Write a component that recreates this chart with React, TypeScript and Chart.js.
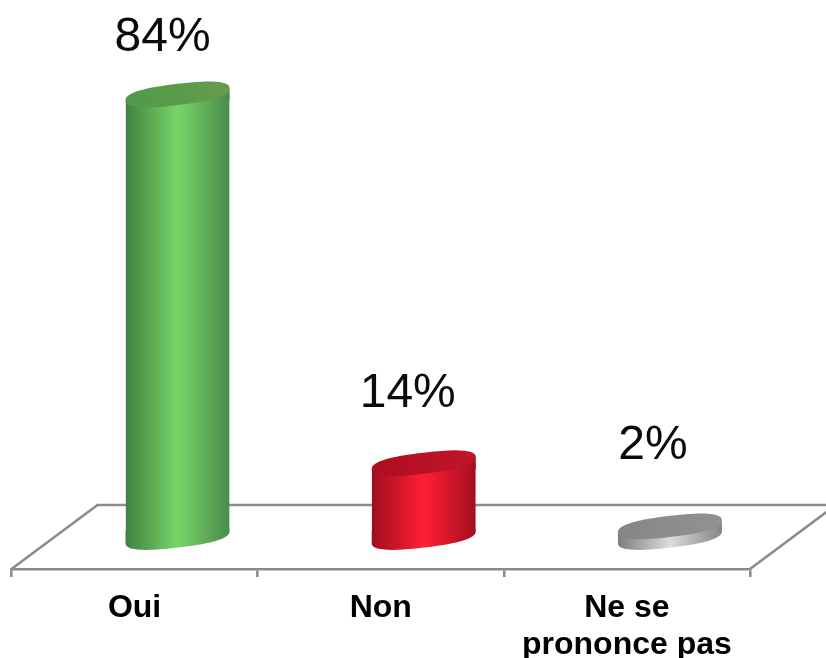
import React, { useEffect, useRef } from "react";
import { Chart, registerables } from "chart.js";

Chart.register(...registerables);

const categories: (string | string[])[] = ["Oui", "Non", ["Ne se", "prononce pas"]];
const values = [84, 14, 2];
const valueLabels = ["84%", "14%", "2%"];

const sideStops = [
  ["#3f8240", "#78d468", "#4a8c4a"],
  ["#a00d20", "#ff1f35", "#a40e20"],
  ["#7d7d7d", "#dcdcdc", "#858585"],
];
const topStops = [
  ["#4f9a4a", "#659c4c"],
  ["#ad0f20", "#c2142a"],
  ["#868686", "#929292"],
];
const labelLift = [57, 69.5, 81];
const labelShift = [-15, -16, -17];

const DEPTH_X = 43;
const DEPTH_Y = -32;
const RX = 52;
const RY = 10.6;
const POWER = 2.5;
const TIP = 6;
const LINE = "#8c8c8c";

function hGrad(ctx: CanvasRenderingContext2D, cx: number, w: number, stops: string[]) {
  const g = ctx.createLinearGradient(cx - w / 2, 0, cx + w / 2, 0);
  if (stops.length === 3) {
    g.addColorStop(0, stops[0]);
    g.addColorStop(0.5, stops[1]);
    g.addColorStop(1, stops[2]);
  } else {
    g.addColorStop(0, stops[0]);
    g.addColorStop(1, stops[1]);
  }
  return g;
}

function oval(ctx: CanvasRenderingContext2D, cx: number, cy: number, fill: CanvasGradient) {
  ctx.beginPath();
  for (let k = 0; k < 96; k++) {
    const t = (k / 96) * Math.PI * 2;
    const c = Math.cos(t);
    const s = Math.sin(t);
    const px = RX * Math.sign(c) * Math.pow(Math.abs(c), 2 / POWER);
    const py = RY * Math.sign(s) * Math.pow(Math.abs(s), 2 / POWER);
    const x = cx + px;
    const y = cy + py - (px / RX) * TIP;
    if (k === 0) ctx.moveTo(x, y);
    else ctx.lineTo(x, y);
  }
  ctx.closePath();
  ctx.fillStyle = fill;
  ctx.fill();
}

function triangle(ctx: CanvasRenderingContext2D, ax: number, ay: number, bx: number, by: number, cx: number, cy: number) {
  ctx.beginPath();
  ctx.moveTo(ax, ay);
  ctx.lineTo(bx, by);
  ctx.lineTo(cx, cy);
  ctx.closePath();
  ctx.fill();
}

const cylinderPlugin = {
  id: "cylinders",
  beforeDatasetsDraw(chart: any) {
    const { ctx, chartArea: a } = chart;
    ctx.save();
    ctx.strokeStyle = LINE;
    ctx.lineWidth = 2.6;
    ctx.beginPath();
    ctx.moveTo(a.left, a.bottom);
    ctx.lineTo(a.left + 2 * DEPTH_X, a.bottom + 2 * DEPTH_Y);
    ctx.lineTo(a.right + 2 * DEPTH_X, a.bottom + 2 * DEPTH_Y);
    ctx.lineTo(a.right, a.bottom);
    ctx.stroke();
    ctx.restore();
  },
  beforeDatasetDraw(chart: any, args: any) {
    const { ctx } = chart;
    const els = chart.getDatasetMeta(args.index).data;
    els.forEach((el: any, i: number) => {
      const cx = el.x + DEPTH_X;
      const l = cx - el.width / 2;
      const r = cx + el.width / 2;
      const t = el.y + DEPTH_Y;
      const b = el.base + DEPTH_Y;
      const fill = hGrad(ctx, cx, el.width, sideStops[i]);
      oval(ctx, cx, b, fill);
      ctx.fillStyle = fill;
      triangle(ctx, l, b + TIP, r, b - TIP, l, b - TIP);
      triangle(ctx, l, t + TIP, r, t - TIP, r, t + TIP);
    });
    ctx.save();
    ctx.beginPath();
    els.forEach((el: any) => {
      const l = el.x + DEPTH_X - el.width / 2;
      const r = el.x + DEPTH_X + el.width / 2;
      const t = el.y + DEPTH_Y;
      const b = el.base + DEPTH_Y;
      ctx.moveTo(l, t + TIP);
      ctx.lineTo(r, t - TIP);
      ctx.lineTo(r, b - TIP);
      ctx.lineTo(l, b + TIP);
      ctx.closePath();
    });
    ctx.clip();
    ctx.translate(DEPTH_X, DEPTH_Y);
  },
  afterDatasetDraw(chart: any, args: any) {
    const { ctx } = chart;
    ctx.restore();
    const els = chart.getDatasetMeta(args.index).data;
    els.forEach((el: any, i: number) => {
      const cx = el.x + DEPTH_X;
      const cy = el.y + DEPTH_Y;
      oval(ctx, cx, cy, hGrad(ctx, cx, el.width, topStops[i]));
    });
    ctx.save();
    ctx.fillStyle = "#0a0a0a";
    ctx.font = '48px "Liberation Sans", Arial, sans-serif';
    ctx.textAlign = "center";
    ctx.textBaseline = "middle";
    els.forEach((el: any, i: number) => {
      ctx.fillText(valueLabels[i], el.x + DEPTH_X + labelShift[i], el.y + DEPTH_Y - labelLift[i]);
    });
    ctx.restore();
  },
};

export default function App() {
  const ref = useRef<HTMLCanvasElement>(null);
  useEffect(() => {
    const chart = new Chart(ref.current as HTMLCanvasElement, {
      type: "bar",
      data: {
        labels: categories as any,
        datasets: [
          {
            data: values,
            clip: false,
            categoryPercentage: 1,
            barPercentage: 0.4225,
            borderWidth: 0,
            backgroundColor: (c: any) => {
              const ch = c.chart;
              if (!ch.chartArea || c.dataIndex === undefined) return sideStops[0][1];
              const band = (ch.chartArea.right - ch.chartArea.left) / categories.length;
              const w = band * 0.4225;
              const cx = ch.chartArea.left + band * (c.dataIndex + 0.5);
              return hGrad(ch.ctx, cx, w, sideStops[c.dataIndex]);
            },
          } as any,
        ],
      },
      options: {
        animation: false,
        responsive: false,
        devicePixelRatio: 1,
        layout: { padding: { left: 11.5, right: 76, top: 0, bottom: 0 } },
        plugins: { legend: { display: false }, title: { display: false }, tooltip: { enabled: false } },
        scales: {
          x: {
            type: "category",
            offset: true,
            afterFit(scale: any) {
              scale.height = 89;
            },
            border: { color: LINE, width: 2.6 },
            grid: { display: true, drawOnChartArea: false, drawTicks: true, tickLength: 8, color: LINE, lineWidth: 2.6 },
            ticks: {
              color: "#000000",
              padding: 13.5,
              autoSkip: false,
              maxRotation: 0,
              font: { family: '"Liberation Sans", Arial, sans-serif', size: 32, weight: "bold", lineHeight: 1.13 },
            },
          },
          y: { display: false, min: 0, max: 108 },
        },
      },
      plugins: [cylinderPlugin],
    } as any);
    return () => chart.destroy();
  }, []);
  return (
    <div style={{ position: "fixed", left: 0, top: 0, width: 826, height: 658, background: "#fff" }}>
      <canvas ref={ref} width={826} height={658} style={{ display: "block" }} />
    </div>
  );
}
